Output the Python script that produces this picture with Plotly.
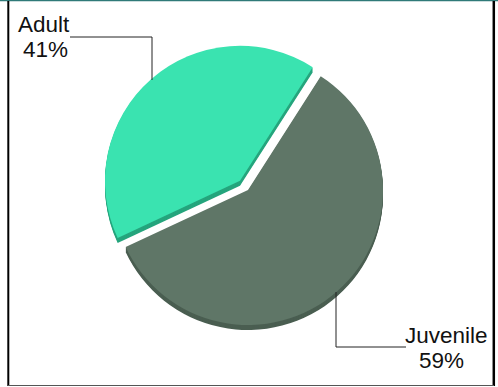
import plotly.graph_objects as go

# ---- data ----
labels = ["Adult", "Juvenile"]
values = [41, 59]
pct_text = ["41%", "59%"]
colors = ["#3ae3b0", "#5f7667"]
shadow_colors = ["#25a57d", "#4a5e51"]
pulls = [0.09, 0.0]

W, H = 498, 387


def px(x):
    return x / W


def py(y):
    return 1 - y / H


# pie geometry (pixels)
cx, cy, r = 248, 190, 135
half = r * (1 + max(pulls))


def dom(dy=0):
    return dict(x=[px(cx - half), px(cx + half)],
                y=[py(cy + dy + half), py(cy + dy - half)])


fig = go.Figure()

# extruded "3D" side
for d in [5, 4, 3, 2, 1]:
    fig.add_trace(go.Pie(
        labels=labels, values=values, sort=False, direction="clockwise",
        rotation=245, pull=pulls, domain=dom(d),
        marker=dict(colors=shadow_colors, line=dict(width=0)),
        textinfo="none", hoverinfo="skip", showlegend=False))

fig.add_trace(go.Pie(
    labels=labels, values=values, sort=False, direction="clockwise",
    rotation=245, pull=pulls, domain=dom(0),
    marker=dict(colors=colors, line=dict(width=0)),
    textinfo="none", showlegend=False))

font = dict(family="Liberation Sans, Arial, sans-serif", size=22.5, color="#111111")
ann = []
label_pos = {"Adult": [(44, 24), (45.5, 50)], "Juvenile": [(446.5, 335), (441.5, 360)]}
for lab, pt in zip(labels, pct_text):
    (x1, y1), (x2, y2) = label_pos[lab]
    ann.append(dict(x=px(x1), y=py(y1), xref="paper", yref="paper", text=lab,
                    showarrow=False, font=font, xanchor="center", yanchor="middle"))
    ann.append(dict(x=px(x2), y=py(y2), xref="paper", yref="paper", text=pt,
                    showarrow=False, font=font, xanchor="center", yanchor="middle"))

line_style = dict(color="#222222", width=1)
shapes = []


def seg(x0, y0, x1, y1, **kw):
    shapes.append(dict(type="line", xref="paper", yref="paper",
                       x0=px(x0), y0=py(y0), x1=px(x1), y1=py(y1),
                       line=kw.get("line", line_style)))


# leader lines
seg(70, 37, 152, 37)
seg(152, 37, 152, 80)
seg(336, 292, 336, 347)
seg(336, 347, 406, 347)

# frame
seg(0, 0.5, 498, 0.5, line=dict(color="#2f7a78", width=1.5))
seg(8.3, 1, 8.3, 386, line=dict(color="#000000", width=2))
seg(493.8, 1, 493.8, 386, line=dict(color="#000000", width=2.5))
seg(8, 385.5, 494, 385.5, line=dict(color="#555555", width=1.2))

fig.update_layout(
    width=W, height=H,
    margin=dict(l=0, r=0, t=0, b=0),
    paper_bgcolor="white", plot_bgcolor="white",
    annotations=ann, shapes=shapes,
)

fig.write_html("out.html", config={"displayModeBar": False},
               post_script="document.body.style.margin='0';document.body.style.overflow='hidden';")
